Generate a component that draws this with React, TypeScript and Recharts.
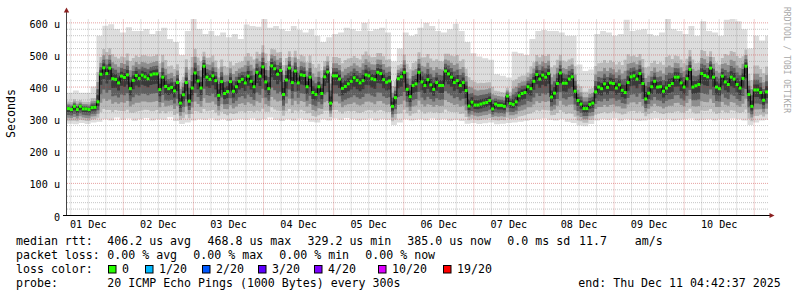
// SmokePing latency graph (10 days)
import React from "react";
import { ComposedChart, Area, Line, XAxis, YAxis, ReferenceLine } from "recharts";

// median rtt per hour, in microseconds
const medianRtt = [
  333, 330, 340, 330, 340, 332, 332, 330, 336, 337, 354, 440, 460, 442, 459, 426, 424, 413, 434, 430,
  438, 395, 421, 436, 427, 437, 432, 426, 438, 441, 441, 392, 431, 402, 395, 399, 388, 414, 350, 376,
  414, 356, 397, 444, 419, 397, 465, 431, 424, 435, 420, 374, 417, 380, 386, 417, 387, 401, 418,
  424, 413, 434, 418, 401, 446, 434, 463, 416, 395, 466, 457, 440, 452, 377, 422, 459, 414, 450, 413,
  438, 436, 401, 431, 383, 377, 401, 380, 432, 447, 350, 435, 435, 425, 396, 402, 410, 418, 429, 421,
  413, 420, 438, 435, 426, 423, 446, 442, 423, 415, 419, 340, 367, 426, 432, 446, 393, 370, 405, 410, 446,
  416, 405, 423, 407, 393, 414, 405, 405, 450, 441, 431, 414, 420, 405, 414, 389, 341, 353, 344, 344,
  347, 350, 352, 358, 332, 347, 343, 343, 340, 372, 349, 346, 354, 373, 380, 383, 401, 395, 418, 439,
  425, 437, 431, 442, 369, 381, 411, 444, 412, 412, 425, 432, 387, 358, 347, 333, 333, 346, 350, 385,
  400, 395, 410, 399, 413, 411, 397, 407, 390, 383, 414, 432, 435, 425, 442, 411, 363, 381, 401, 418,
  400, 401, 387, 397, 405, 411, 431, 431, 413, 400, 426, 455, 400, 404, 408, 442, 436, 432, 459, 431,
  400, 395, 434, 416, 408, 431, 425, 408, 397, 427, 465, 377, 340, 391, 391, 383, 359, 385
];

// slowest ping per 2 hour block (top of the smoke), microseconds
const smokeMax = [
  382, 389, 382, 382, 402, 560, 591, 596, 581, 570, 586, 575, 575, 581, 565, 575, 585, 550, 540, 500,
  575, 612, 581, 565, 575, 560, 570, 555, 565, 550, 595, 590, 588, 612, 585, 590, 580, 575, 590, 578,
  570, 580, 560, 540, 555, 565, 570, 585, 580, 575, 600, 575, 580, 585, 570, 480, 520, 570, 560, 565,
  585, 600, 590, 575, 570, 580, 597, 575, 540, 505, 495, 490, 485, 440, 435, 430, 510, 505, 500, 550,
  575, 578, 575, 575, 570, 560, 560, 470, 450, 455, 565, 575, 570, 560, 565, 610, 575, 578, 580, 565,
  560, 570, 612, 580, 575, 565, 590, 560, 605, 575, 570, 560, 610, 612, 605, 580, 520, 560, 545, 560
];

// fastest ping per 2 hour block (bottom of the smoke), microseconds
const smokeMin = [
  286, 284, 288, 285, 290, 292, 300, 296, 305, 298, 302, 295, 300, 304, 296, 300, 298, 306, 294, 285,
  290, 296, 300, 298, 302, 296, 300, 294, 298, 300, 298, 302, 296, 300, 305, 298, 294, 300, 296, 302,
  298, 292, 290, 300, 296, 302, 298, 304, 300, 296, 298, 302, 296, 300, 298, 282, 290, 300, 296, 298,
  300, 296, 302, 298, 300, 295, 298, 294, 286, 288, 285, 287, 290, 284, 286, 288, 290, 292, 295, 298,
  300, 302, 298, 296, 300, 292, 288, 280, 278, 285, 296, 300, 298, 302, 296, 300, 298, 294, 296, 300,
  302, 298, 300, 296, 298, 300, 302, 296, 298, 300, 296, 300, 298, 302, 300, 296, 282, 290, 296, 298
];

const yTicks = [0, 100, 200, 300, 400, 500, 600];
const dayLabels = ["01 Dec", "02 Dec", "03 Dec", "04 Dec", "05 Dec", "06 Dec", "07 Dec", "08 Dec", "09 Dec", "10 Dec"];

const lossLabels = ["0", "1/20", "2/20", "3/20", "4/20", "10/20", "19/20"];
const lossFills = ["#26ff00", "#00b8ff", "#0059ff", "#5e00ff", "#7e00ff", "#dd00ff", "#ff0000"];

const START_H = 4.71; // graph start, hours after 01 Dec 00:00
const SPAN_H = 240;
const STEP_H = SPAN_H / medianRtt.length;

// smoke shading: share of the gap median -> max / median -> min
const bandUp = [1, 0.45, 0.3, 0.19, 0.1];
const bandDown = [1, 0.8, 0.6, 0.42, 0.22];
const bandFills = ["#dddddd", "#bababa", "#8e8e8e", "#5f5f5f", "#393939"];

const rows: any[] = medianRtt.map((med, i) => {
  const b = Math.min(Math.floor((i * STEP_H) / 2), smokeMax.length - 1);
  const hi = Math.max(smokeMax[b], med);
  const lo = Math.min(smokeMin[b], med);
  const row: any = { t: START_H + i * STEP_H, med };
  bandUp.forEach((u, k) => {
    row["s" + k] = [med - (med - lo) * bandDown[k], med + (hi - med) * u];
  });
  return row;
});
rows.push({ ...rows[rows.length - 1], t: START_H + SPAN_H, last: true });

const minorY: number[] = [];
for (let v = 20; v < 600; v += 20) if (v % 100 !== 0) minorY.push(v);
const majorY = yTicks.filter((v) => v > 0);
const minorX: number[] = [];
const majorX: number[] = [];
for (let h = 6; h <= 244; h += 6) (h % 24 === 0 ? majorX : minorX).push(h);
const noonTicks = dayLabels.map((_, k) => 12 + 24 * k);

const mono = "DejaVu Sans Mono";
const axisFont = { fontFamily: mono, fontSize: 10.15, fill: "#000" };

const MedianSquare = (props: any) => {
  const { cx, cy, payload, index } = props;
  if (payload.last || cx == null) return <g key={"m" + index} />;
  return <rect key={"m" + index} x={cx} y={cy - 1.5} width={3} height={3} fill="#26ff00" />;
};

const legendRows = [
  { y: 245, label: "median rtt:", items: [[107.3, "406.2 us avg"], [207.5, "468.8 us max"], [307.5, "329.2 us min"], [407.3, "385.0 us now"], [507.3, "0.0 ms sd"], [579, "11.7    am/s"]] },
  { y: 259.3, label: "packet loss:", items: [[107.3, "0.00 % avg"], [193.3, "0.00 % max"], [279.3, "0.00 % min"], [365.3, "0.00 % now"]] },
  { y: 287.3, label: "probe:", items: [[107.3, "20 ICMP Echo Pings (1000 Bytes) every 300s"], [578.3, "end: Thu Dec 11 04:42:37 2025"]] }
];
const lossX = [108, 145, 202, 258, 314, 378, 443];

export default function App() {
  return (
    <div style={{ position: "absolute", left: 0, top: 0, width: 797, height: 297, background: "#fff", overflow: "hidden" }}>
      <ComposedChart width={797} height={236} data={rows} margin={{ top: 19, right: 29, bottom: 0, left: 0 }}>
        <XAxis
          type="number"
          dataKey="t"
          domain={[START_H, START_H + SPAN_H]}
          allowDataOverflow
          ticks={noonTicks}
          interval={0}
          tickFormatter={(_v: number, i: number) => dayLabels[i]}
          tick={axisFont}
          tickLine={false}
          axisLine={false}
          tickSize={0}
          tickMargin={5}
          height={20.5}
        />
        <YAxis
          type="number"
          domain={[0, 600]}
          ticks={yTicks}
          interval={0}
          tickFormatter={(v: number) => (v === 0 ? "0" : v + " u")}
          tick={{ ...axisFont, dy: 1.5 }}
          tickLine={false}
          axisLine={false}
          tickSize={0}
          tickMargin={7}
          width={67}
        />
        {bandFills.map((fill, k) => (
          <Area
            key={"s" + k}
            type="stepAfter"
            dataKey={"s" + k}
            stroke="none"
            fill={fill}
            fillOpacity={1}
            dot={false}
            activeDot={false}
            isAnimationActive={false}
          />
        ))}
        {minorY.map((v) => (
          <ReferenceLine key={"hy" + v} y={v} stroke="#8c8c8c" strokeOpacity={0.5} strokeDasharray="1 1" />
        ))}
        {minorX.map((h) => (
          <ReferenceLine key={"hx" + h} x={h} stroke="#8c8c8c" strokeOpacity={0.5} strokeDasharray="1 1" />
        ))}
        {majorY.map((v) => (
          <ReferenceLine key={"my" + v} y={v} stroke="#c83030" strokeOpacity={0.45} strokeDasharray="1 1" />
        ))}
        {majorX.map((h) => (
          <ReferenceLine key={"mx" + h} x={h} stroke="#c83030" strokeOpacity={0.45} strokeDasharray="1 1" />
        ))}
        <Line
          type="stepAfter"
          dataKey="med"
          stroke="#000"
          strokeWidth={1}
          dot={MedianSquare}
          activeDot={false}
          isAnimationActive={false}
        />
      </ComposedChart>

      <svg width={797} height={297} style={{ position: "absolute", left: 0, top: 0, pointerEvents: "none" }}>
        <line x1={66.5} y1={11} x2={66.5} y2={216} stroke="#444" strokeWidth={1} />
        <line x1={63} y1={215.5} x2={770} y2={215.5} stroke="#000" strokeWidth={1} />
        <polygon points="63.8,12.5 69.2,12.5 66.5,7.5" fill="#8b2020" />
        <polygon points="769.5,213 769.5,218 774.5,215.5" fill="#8b2020" />
        <text
          transform="translate(14.5,113.5) rotate(-90)"
          textAnchor="middle"
          fontFamily={mono}
          fontSize={11.6}
          fill="#000"
        >
          Seconds
        </text>
        <text
          transform="translate(783.5,60) rotate(90)"
          textAnchor="middle"
          fontFamily={mono}
          fontSize={8}
          fill="#a8a8a8"
        >
          RRDTOOL / TOBI OETIKER
        </text>
        {legendRows.map((r) => (
          <g key={r.label} fontFamily={mono} fontSize={11.6} fill="#000">
            <text x={16} y={r.y}>{r.label}</text>
            {r.items.map(([x, s]) => (
              <text key={String(x)} x={x as number} y={r.y} xmlSpace="preserve" style={{ whiteSpace: "pre" }}>
                {s}
              </text>
            ))}
          </g>
        ))}
        <g fontFamily={mono} fontSize={11.6} fill="#000">
          <text x={16} y={273.3}>loss color:</text>
          {lossLabels.map((lab, k) => (
            <g key={lab}>
              <rect x={lossX[k] + 0.5} y={265.5} width={7.5} height={7.5} fill={lossFills[k]} stroke="#000" strokeWidth={1} />
              <text x={lossX[k] + 14} y={273.3}>{lab}</text>
            </g>
          ))}
        </g>
      </svg>
    </div>
  );
}
